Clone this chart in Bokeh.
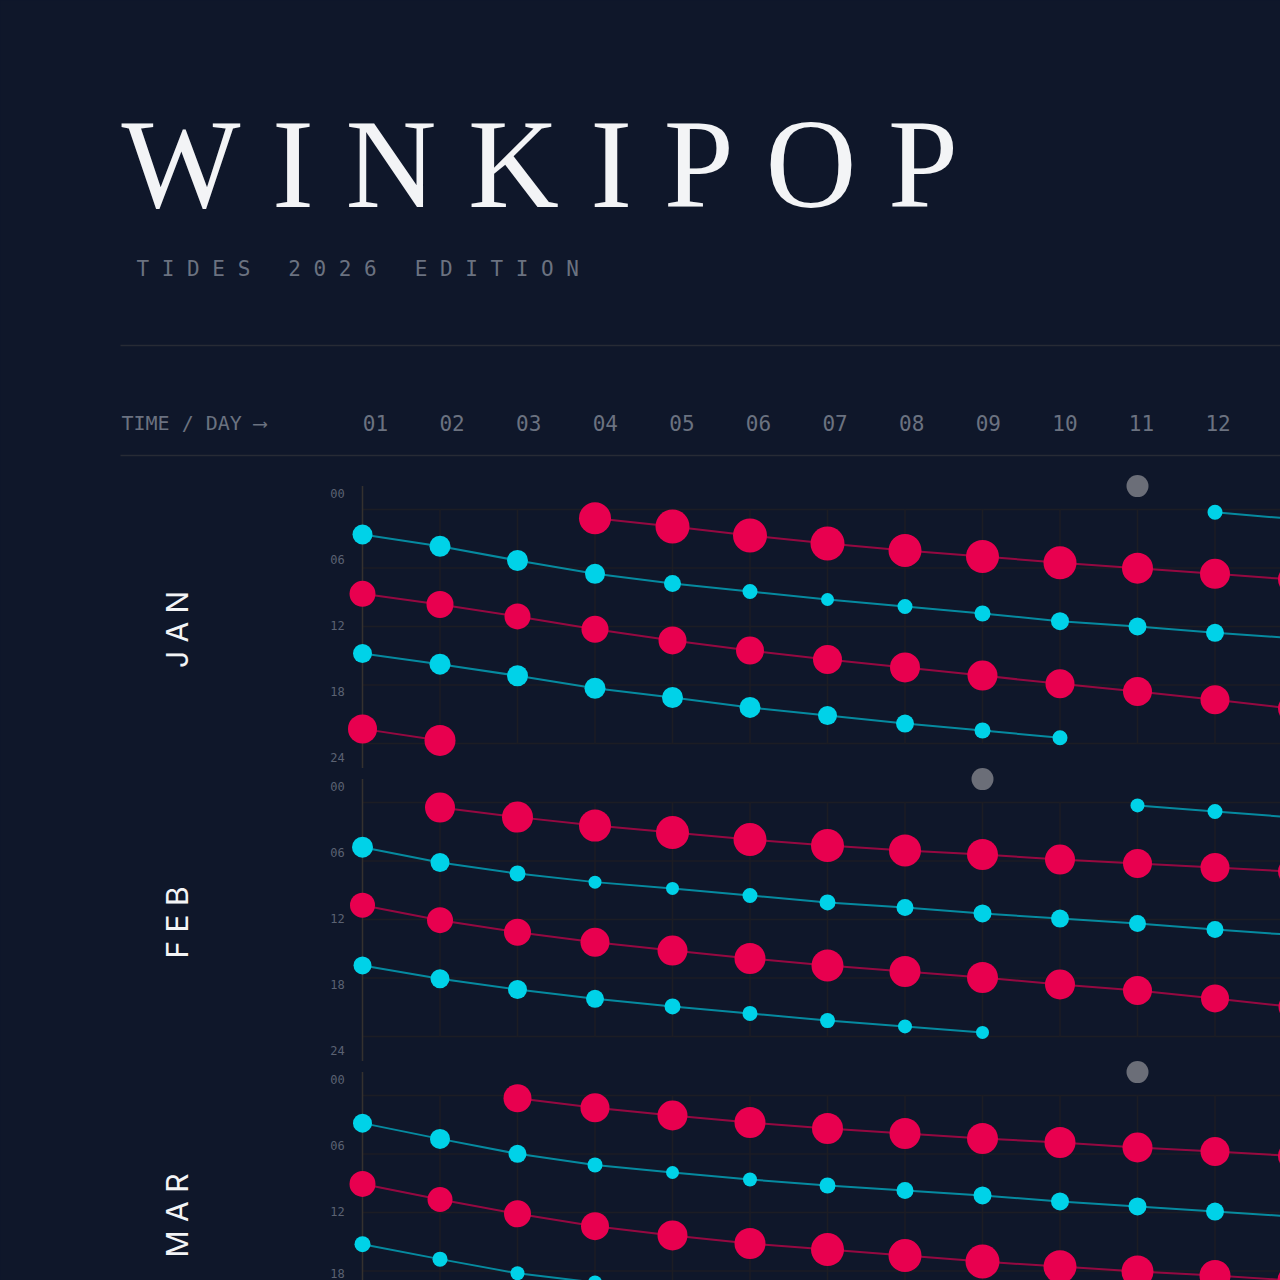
import math
from bokeh.plotting import figure
from bokeh.models import Range1d, Label, ColumnDataSource
from bokeh.embed import file_html
from bokeh.resources import INLINE
from bokeh.core.properties import value

# ---------------------------------------------------------------- data
TITLE = "WINKIPOP"
SUBTITLE = "TIDES 2026 EDITION"
AXIS_CAPTION = "TIME / DAY \u27f6"
DAY_LABELS = ["01", "02", "03", "04", "05", "06", "07", "08", "09", "10", "11", "12"]
HOUR_TICKS = [0, 6, 12, 18, 24]
HOUR_LABELS = ["00", "06", "12", "18", "24"]
MONTHS = ["JAN", "FEB", "MAR"]

# last-quarter moon day per month
MOON_DAYS = [11, 9, 11]

# tide chains: first day, local times, heights (m)
JAN_HIGH = [
    dict(start=1, time=["08:39", "09:44", "10:58", "12:17", "13:26", "14:28", "15:23",
                        "16:12", "17:02", "17:53", "18:40", "19:31", "20:25"],
         height=[1.2, 1.3, 1.2, 1.3, 1.4, 1.4, 1.5, 1.6, 1.6, 1.5, 1.5, 1.5, 1.5]),
    dict(start=1, time=["22:30", "23:41"], height=[1.5, 1.7]),
    dict(start=4, time=["00:54", "01:45", "02:40", "03:29", "04:12", "04:49", "05:28",
                        "06:01", "06:36", "07:11"],
         height=[1.8, 2.0, 2.0, 2.0, 1.9, 1.9, 1.9, 1.7, 1.6, 1.5]),
]
JAN_LOW = [
    dict(start=1, time=["02:34", "03:46", "05:14", "06:36", "07:35", "08:25", "09:14",
                        "09:57", "10:40", "11:27", "12:00", "12:39", "13:11"],
         height=[0.10, 0.05, 0.05, 0.10, 0.25, 0.35, 0.45, 0.35, 0.30, 0.20, 0.20, 0.20, 0.20]),
    dict(start=1, time=["14:46", "15:52", "17:03", "18:20", "19:17", "20:18", "21:08",
                        "21:57", "22:40", "23:25"],
         height=[0.15, 0.05, 0.05, 0.05, 0.05, 0.05, 0.15, 0.20, 0.30, 0.35]),
    dict(start=12, time=["00:17", "00:58"], height=[0.35, 0.35]),
]
FEB_HIGH = [
    dict(start=1, time=["10:32", "12:04", "13:18", "14:20", "15:11", "16:00", "16:43",
                        "17:20", "17:57", "18:40", "19:17", "20:06", "20:58"],
         height=[1.1, 1.2, 1.3, 1.5, 1.6, 1.7, 1.8, 1.7, 1.7, 1.6, 1.5, 1.4, 1.4]),
    dict(start=2, time=["00:31", "01:30", "02:22", "03:05", "03:48", "04:25", "04:55",
                        "05:20", "05:51", "06:15", "06:40", "07:05"],
         height=[1.6, 1.7, 1.8, 1.9, 1.9, 1.9, 1.8, 1.7, 1.6, 1.5, 1.5, 1.5]),
]
FEB_LOW = [
    dict(start=1, time=["04:35", "06:09", "07:17", "08:10", "08:49", "09:32", "10:15",
                        "10:46", "11:23", "11:54", "12:25", "13:02", "13:35"],
         height=[0.05, 0.15, 0.30, 0.45, 0.45, 0.35, 0.30, 0.25, 0.20, 0.20, 0.25, 0.25, 0.25]),
    dict(start=1, time=["16:43", "18:05", "19:11", "20:08", "20:55", "21:38", "22:22",
                        "22:58", "23:35"],
         height=[0.20, 0.15, 0.15, 0.20, 0.30, 0.35, 0.35, 0.40, 0.45]),
    dict(start=11, time=["00:18", "00:55", "01:32"], height=[0.40, 0.35, 0.35]),
]
MAR_HIGH = [
    dict(start=1, time=["09:04", "10:40", "12:08", "13:24", "14:21", "15:11", "15:48",
                        "16:25", "17:02", "17:33", "18:03", "18:28", "18:58"],
         height=[1.2, 1.1, 1.3, 1.4, 1.6, 1.7, 1.9, 1.9, 2.0, 1.9, 1.8, 1.7, 1.6]),
    dict(start=3, time=["00:17", "01:16", "02:03", "02:46", "03:23", "03:54", "04:25",
                        "04:49", "05:20", "05:45", "06:12"],
         height=[1.4, 1.5, 1.6, 1.7, 1.7, 1.7, 1.7, 1.7, 1.6, 1.5, 1.5]),
]
MAR_LOW = [
    dict(start=1, time=["02:50", "04:27", "05:59", "07:07", "07:54", "08:37", "09:14",
                        "09:45", "10:15", "10:52", "11:23", "11:54", "12:25"],
         height=[0.15, 0.10, 0.20, 0.35, 0.45, 0.40, 0.30, 0.25, 0.20, 0.20, 0.20, 0.20, 0.20]),
    dict(start=1, time=["15:15", "16:47", "18:14", "19:11", "20:06"],
         height=[0.30, 0.35, 0.40, 0.40, 0.40]),
]
HIGHS = [JAN_HIGH, FEB_HIGH, MAR_HIGH]
LOWS = [JAN_LOW, FEB_LOW, MAR_LOW]

# ---------------------------------------------------------------- style / layout
W, H = 1280, 1280
BG = "#0f172a"
RED = "#e8004f"
CYAN = "#00d2e8"
MOON = "#6b6e78"
GRID = "#1c1d24"
AXIS = "#34312f"
RULE = "#272b35"
MUTED = "#6b7280"
TICK = "#5b6272"
WHITE = "#f3f4f6"
MONO = "DejaVu Sans Mono"
NB = "\u00a0"

DAY1_PX, PX_PER_DAY = 362.0, 77.5
JAN0_PY, PX_PER_HOUR = 509.0, 9.75
MONTH_GAP = 293.0 / PX_PER_HOUR      # hours between month panels


def px_x(px):
    return 1 + (px - DAY1_PX) / PX_PER_DAY


def px_y(py):
    return (py - JAN0_PY) / PX_PER_HOUR


def hours(t):
    h, m = t.split(":")
    return int(h) + int(m) / 60.0


def hi_size(h):
    return 14 + 10 * h


def lo_size(h):
    return 22 - 20 * h


p = figure(width=W, height=H, output_backend="svg", toolbar_location=None,
           x_range=Range1d(px_x(0), px_x(W)), y_range=Range1d(px_y(H), px_y(0)),
           x_axis_location=None, y_axis_location=None, min_border=0,
           background_fill_color=BG, border_fill_color=BG, outline_line_color=None)
p.grid.visible = False

# ---------------------------------------------------------------- header
p.add_layout(Label(x=px_x(121), y=px_y(164), text=NB.join(TITLE),
                   text_font="Liberation Serif", text_font_size="126px",
                   text_color=WHITE, text_baseline="middle"))
sub = (NB * 3).join(NB.join(w) for w in SUBTITLE.split())
p.add_layout(Label(x=px_x(136), y=px_y(268.5), text=sub, text_font=MONO,
                   text_font_size="21px", text_color=MUTED, text_baseline="middle"))
for ry in (345, 455):
    p.segment(x0=[px_x(120)], x1=[px_x(W + 10)], y0=[px_y(ry)], y1=[px_y(ry)],
              line_color=RULE, line_width=1.5)
p.add_layout(Label(x=px_x(121), y=px_y(422.5), text=AXIS_CAPTION.replace(" ", NB),
                   text_font=MONO, text_font_size="20px", text_color=MUTED,
                   text_baseline="middle"))
HEAD_X0, HEAD_STEP = 375.0, 76.6
p.text(x=[px_x(HEAD_X0 + i * HEAD_STEP) for i in range(len(DAY_LABELS))],
       y=[px_y(422.5)] * len(DAY_LABELS), text=DAY_LABELS, text_font=value(MONO),
       text_font_size="21px", text_color=MUTED, text_align="center",
       text_baseline="middle")

# ---------------------------------------------------------------- panels
LAST_DAY = 13
LABEL_TOP, LABEL_BOT = -1.65, 25.45
for m, month in enumerate(MONTHS):
    off = m * MONTH_GAP
    # grid
    p.segment(x0=[1] * len(HOUR_TICKS), x1=[LAST_DAY + 1] * len(HOUR_TICKS),
              y0=[off + t for t in HOUR_TICKS], y1=[off + t for t in HOUR_TICKS],
              line_color=GRID, line_width=1.5)
    days = list(range(2, LAST_DAY + 1))
    p.segment(x0=days, x1=days, y0=[off] * len(days), y1=[off + 24] * len(days),
              line_color=GRID, line_width=1.5)
    p.segment(x0=[1], x1=[1], y0=[off - 2.4], y1=[off + 26.5], line_color=AXIS, line_width=1.5)
    # hour labels (only those that reach the page, kept inside its bottom edge)
    ly = [off + LABEL_TOP + t / 24 * (LABEL_BOT - LABEL_TOP) for t in HOUR_TICKS]
    keep = [i for i, v in enumerate(ly) if v < px_y(H + 4)]
    p.text(x=[px_x(337)] * len(keep), y=[min(ly[i], px_y(H - 7)) for i in keep],
           text=[HOUR_LABELS[i] for i in keep], text_font=value(MONO), text_font_size="12px",
           text_color=TICK, text_align="center", text_baseline="middle")
    # month label
    p.text(x=[px_x(176)], y=[off + 12.3], text=[NB.join(month)], angle=math.pi / 2,
           text_font=value("Inter"), text_font_size="30px", text_color=WHITE,
           text_align="center", text_baseline="middle")
    # tides
    for chains, col, sizer in ((LOWS[m], CYAN, lo_size), (HIGHS[m], RED, hi_size)):
        for ch in chains:
            d = [ch["start"] + i for i in range(len(ch["time"]))]
            y = [off + hours(t) for t in ch["time"]]
            s = [sizer(h) for h in ch["height"]]
            src = ColumnDataSource(dict(x=d, y=y, s=s))
            p.line("x", "y", source=src, line_color=col, line_alpha=0.62, line_width=2)
            p.scatter("x", "y", source=src, size="s", fill_color=col, line_color=None)
    # moon
    p.scatter(x=[MOON_DAYS[m]], y=[off - 2.4], size=22, fill_color=MOON, line_color=None)

html = file_html(p, INLINE)
html = html.replace("<head>", "<head><style>html,body{margin:0;padding:0;background:%s;overflow:hidden;}</style>" % BG, 1)
open("out.html", "w").write(html)
